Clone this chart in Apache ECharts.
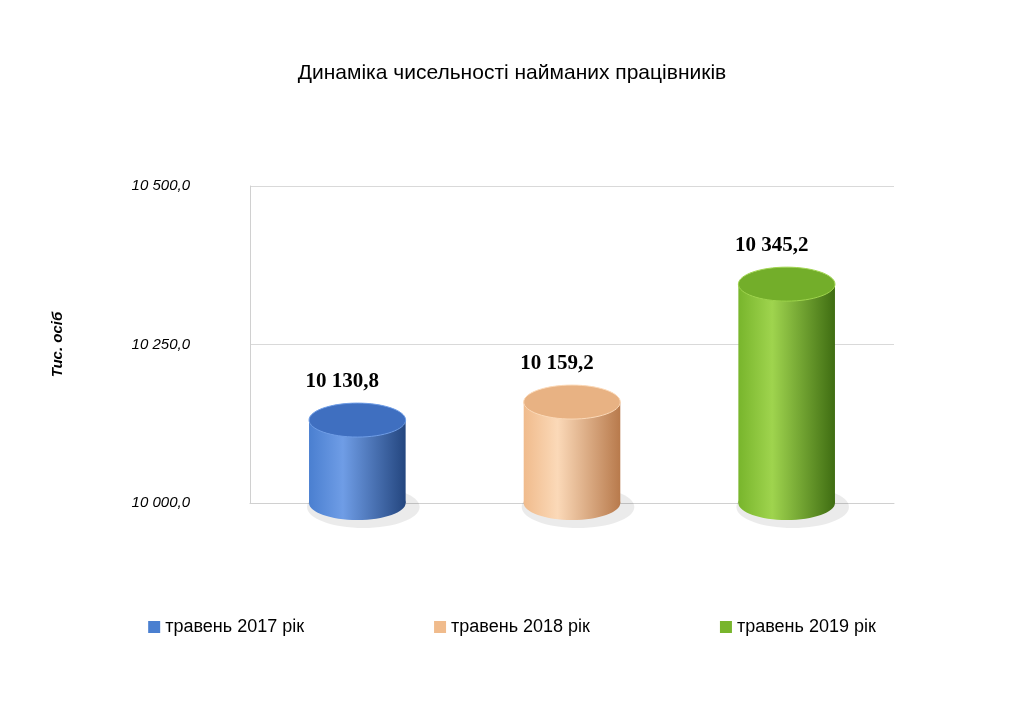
<!DOCTYPE html>
<html><head><meta charset="utf-8">
<script src="https://cdn.jsdelivr.net/npm/echarts@6/dist/echarts.min.js"></script>
<style>html,body{margin:0;background:#fff}#c{width:1024px;height:709px}</style>
</head><body><div id="c"></div>
<script>
const categories = ['травень 2017 рік','травень 2018 рік','травень 2019 рік'];
const values = [10130.8, 10159.2, 10345.2];
const labels = ['10 130,8','10 159,2','10 345,2'];
const yTicks = [10000, 10250, 10500];
const colors = [
  {light:'#6f9de6', mid:'#4a7fd0', dark:'#24467f', top:'#3f6fc0'},
  {light:'#fbd9b8', mid:'#f0bb8c', dark:'#b87a4c', top:'#e8b283'},
  {light:'#9fd44e', mid:'#78b52c', dark:'#3f6d12', top:'#73ae2a'}
];
const fmt = v => String(v).replace(/\B(?=(\d{3})+(?!\d))/g,' ') + ',0';
const chart = echarts.init(document.getElementById('c'));
const series = categories.map((name, i) => ({
  name, type:'custom', data:[[i, values[i]]],
  itemStyle:{color:colors[i].mid},
  renderItem:(params, api) => {
    const idx = api.value(0), v = api.value(1);
    const top = api.coord([idx, v]);
    const base = api.coord([idx, 10000]);
    const w = api.size([1,0])[0]*0.45;
    const rx = w/2, ry = 17, c = colors[i];
    const grad = new echarts.graphic.LinearGradient(0,0,1,0,[
      {offset:0,color:c.mid},{offset:0.35,color:c.light},{offset:1,color:c.dark}]);
    return {type:'group', children:[
      {type:'ellipse', shape:{cx:base[0]+6, cy:base[1]+4, rx:rx+8, ry:ry+4}, style:{fill:'rgba(0,0,0,0.08)'}},
      {type:'ellipse', shape:{cx:base[0], cy:base[1], rx, ry}, style:{fill:grad}},
      {type:'rect', shape:{x:top[0]-rx, y:top[1], width:w, height:base[1]-top[1]}, style:{fill:grad}},
      {type:'ellipse', shape:{cx:top[0], cy:top[1], rx, ry}, style:{fill:c.top, stroke:c.light, lineWidth:1}},
      {type:'text', x:top[0]-15, y:top[1]-28, style:{text:labels[i], fill:'#000', font:'bold 21px "Liberation Serif", serif', textAlign:'center', textVerticalAlign:'bottom'}}
    ]};
  }
}));
chart.setOption({
  animation:false,
  title:{text:'Динаміка чисельності найманих працівників', left:'center', top:58,
    textStyle:{fontFamily:'Liberation Sans', fontWeight:'normal', fontSize:21, color:'#000'}},
  legend:{bottom:68, itemGap:130, itemWidth:12, itemHeight:12, icon:'rect',
    textStyle:{fontFamily:'Liberation Sans', fontSize:18, color:'#000'},
    data:categories},
  grid:{left:250, right:130, top:186, bottom:206},
  xAxis:{type:'category', data:categories, axisLabel:{show:false}, axisTick:{show:false},
    axisLine:{lineStyle:{color:'#d0d0d0'}}},
  yAxis:{type:'value', min:10000, max:10500, interval:250,
    name:'Тис. осіб', nameLocation:'middle', nameGap:185, nameRotate:90,
    nameTextStyle:{fontFamily:'Liberation Sans', fontStyle:'italic', fontWeight:'bold', fontSize:15, color:'#000'},
    axisLabel:{margin:60, formatter:fmt, fontFamily:'Liberation Sans', fontStyle:'italic', fontSize:15, color:'#000'},
    axisLine:{show:true, lineStyle:{color:'#d0d0d0'}},
    splitLine:{lineStyle:{color:'#d9d9d9'}}},
  series
});
</script></body></html>
